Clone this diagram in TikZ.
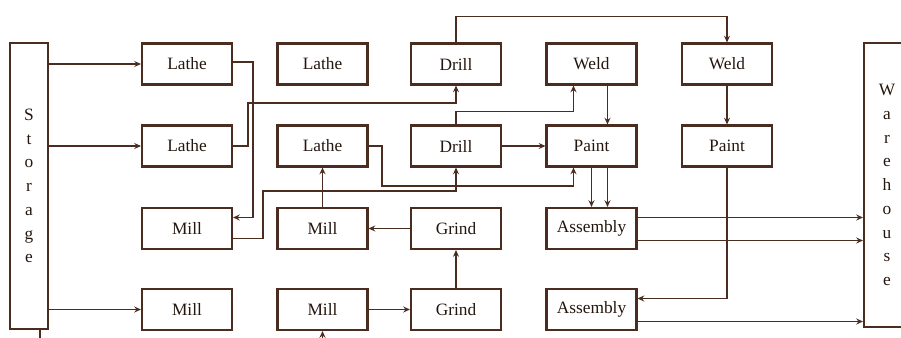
\documentclass[tikz,border=0pt]{standalone}
\usepackage{fontspec}
\setmainfont{Liberation Serif}
\usetikzlibrary{arrows.meta,calc}
\definecolor{ink}{HTML}{4A2C20}
\definecolor{txt}{HTML}{24160F}
\begin{document}
\begin{tikzpicture}[x=0.75pt,y=-0.75pt,
  box/.style={draw=ink,line width=1.6pt,minimum width=67.5pt,minimum height=30.75pt,
    inner sep=0pt,text=txt,font=\fontsize{13}{15}\selectfont},
  tall/.style={draw=ink,line width=1.6pt,inner sep=0pt,text=txt,align=center,
    font=\fontsize{13}{17.8}\selectfont},
  flow/.style={draw=ink,line width=1.4pt,-{Stealth[length=5pt,width=4.5pt]}},
  wire/.style={draw=ink,line width=1.4pt}]
\useasboundingbox (0,0) rectangle (901,337);

% storage and warehouse
\node[tall,minimum width=28.5pt,minimum height=214.5pt] (st) at (29,186) {S\\t\\o\\r\\a\\g\\e};
\node[tall,minimum width=34.5pt,minimum height=213pt] (wh) at (887,185) {W\\a\\r\\e\\h\\o\\u\\s\\e};

% machine grid
\node[box] (l1)  at (187,64)      {Lathe};
\node[box] (l2)  at (187,146)     {Lathe};
\node[box] (m3)  at (187,228.5)   {Mill};
\node[box] (m4)  at (187,309.5)   {Mill};
\node[box] (n21) at (322.5,64)    {Lathe};
\node[box] (n22) at (322.5,146)   {Lathe};
\node[box] (n23) at (322.5,228.5) {Mill};
\node[box] (n24) at (322.5,309.5) {Mill};
\node[box] (d1)  at (456,64)      {Drill};
\node[box] (d2)  at (456,146)     {Drill};
\node[box] (g3)  at (456,228.5)   {Grind};
\node[box] (g4)  at (456,309.5)   {Grind};
\node[box] (w1)  at (591.5,64)    {Weld};
\node[box] (p1)  at (591.5,146)   {Paint};
\node[box] (a1)  at (591.5,228.5) {Assembly};
\node[box] (a2)  at (591.5,309.5) {Assembly};
\node[box] (w2)  at (727,64)      {Weld};
\node[box] (p2)  at (727,146)     {Paint};

% from storage
\draw[flow] (st.east |- l1.west) -- (l1.west);
\draw[flow] (st.east |- l2.west) -- (l2.west);
\draw[flow] (st.east |- m4.west) -- (m4.west);
\draw[wire] ($(st.south)+(11,0)$) -- ++(0,12);
\draw[flow] ($(n24.south)+(0,12)$) -- (n24.south);

% routes between machines
\draw[flow] ($(l1.east)+(0,-2)$) -- ++(20,0) |- ($(m3.east)+(0,-11)$);
\draw[flow] (l2.east) -- ++(15,0) |- ($(d1.south)+(0,17)$) -- (d1.south);
\draw[flow] ($(m3.east)+(0,10)$) -- ++(30,0) |- ($(d2.south)+(0,23)$) -- (d2.south);
\draw[flow] (n23.north) -- (n22.south);
\draw[flow] (n22.east) -- ++(13,0) |- ($(p1.south)+(-18,18)$) -- ($(p1.south)+(-18,0)$);
\draw[flow] (g3.west) -- (n23.east);
\draw[flow] (g4.north) -- (g3.south);
\draw[flow] (n24.east) -- (g4.west);
\draw[flow] (d1.north) -- ++(0,-26) -| (w2.north);
\draw[flow] (d2.north) -- ++(0,-13) -| ($(w1.south)+(-18,0)$);
\draw[flow] (d2.east) -- (p1.west);
\draw[flow] ($(w1.south)+(16,0)$) -- ($(p1.north)+(16,0)$);
\draw[flow] (w2.south) -- (p2.north);
\draw[flow] (p1.south) -- (a1.north);
\draw[flow] ($(p1.south)+(16,0)$) -- ($(a1.north)+(16,0)$);
\draw[flow] (p2.south) |- ($(a2.east)+(0,-11)$);

% into warehouse
\draw[flow] ($(a1.east)+(0,-11)$) coordinate (t1) -- (wh.west |- t1);
\draw[flow] ($(a1.east)+(0,12)$) coordinate (t2) -- (wh.west |- t2);
\draw[flow] ($(a2.east)+(0,12)$) coordinate (t3) -- (wh.west |- t3);
\end{tikzpicture}
\end{document}
